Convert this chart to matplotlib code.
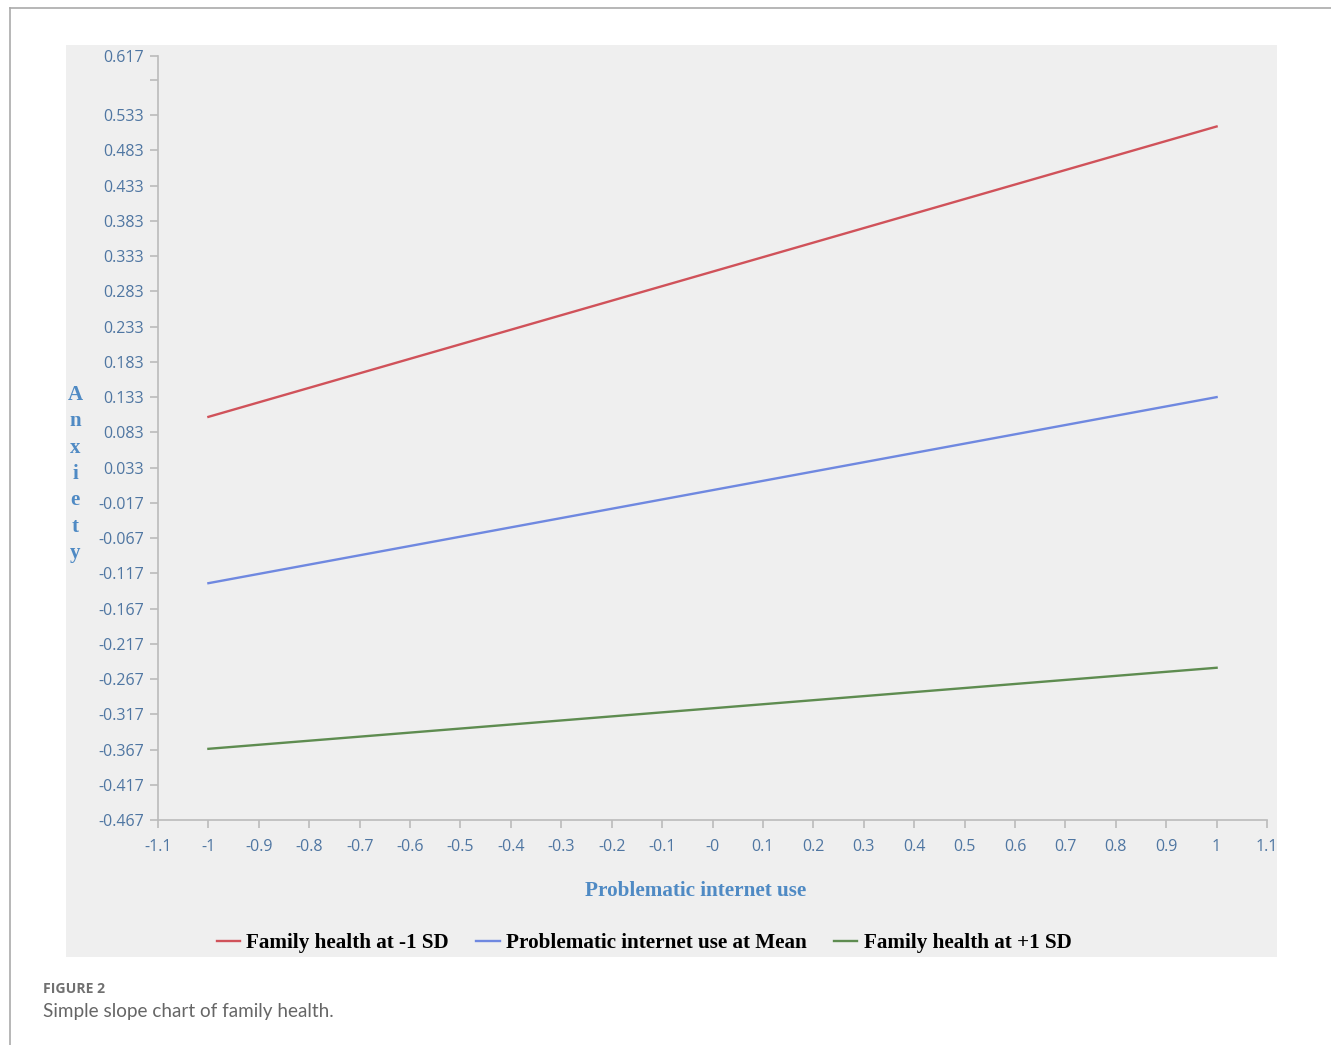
import matplotlib
matplotlib.use("Agg")
import matplotlib.pyplot as plt
from matplotlib.patches import Rectangle
from matplotlib.lines import Line2D

# ---- data ----
x_vals = [-1, 1]
low_sd = [0.105, 0.517]      # Family health at -1 SD
mean_vals = [-0.131, 0.133]  # Problematic internet use at Mean
high_sd = [-0.366, -0.251]   # Family health at +1 SD
series_names = ["Family health at -1 SD", "Problematic internet use at Mean", "Family health at +1 SD"]

ytick_values = [0.617, 0.583, 0.533, 0.483, 0.433, 0.383, 0.333, 0.283, 0.233, 0.183, 0.133,
                0.083, 0.033, -0.017, -0.067, -0.117, -0.167, -0.217, -0.267, -0.317,
                -0.367, -0.417, -0.467]
ytick_labels = ["0.617", "", "0.533", "0.483", "0.433", "0.383", "0.333", "0.283", "0.233",
                "0.183", "0.133", "0.083", "0.033", "-0.017", "-0.067", "-0.117", "-0.167",
                "-0.217", "-0.267", "-0.317", "-0.367", "-0.417", "-0.467"]
xtick_values = [-1.1, -1.0, -0.9, -0.8, -0.7, -0.6, -0.5, -0.4, -0.3, -0.2, -0.1, 0.0,
                0.1, 0.2, 0.3, 0.4, 0.5, 0.6, 0.7, 0.8, 0.9, 1.0, 1.1]
xtick_labels = ["-1.1", "-1", "-0.9", "-0.8", "-0.7", "-0.6", "-0.5", "-0.4", "-0.3", "-0.2",
                "-0.1", "-0", "0.1", "0.2", "0.3", "0.4", "0.5", "0.6", "0.7", "0.8", "0.9",
                "1", "1.1"]

colors = ["#d0525a", "#6f88e0", "#5e8c50"]
tick_color = "#4f76a2"
label_color = "#4f8ac4"
panel_color = "#efefef"
serif = ["Liberation Serif", "DejaVu Serif"]

fig = plt.figure(figsize=(13.31, 10.45), dpi=100)
fig.patch.set_facecolor("white")

# outer frame lines
fig.add_artist(Line2D([10/1331, 10/1331], [0, 1 - 8/1045], transform=fig.transFigure,
                      color="#aaaaaa", lw=1.2))
fig.add_artist(Line2D([10/1331, 1], [1 - 8/1045, 1 - 8/1045], transform=fig.transFigure,
                      color="#aaaaaa", lw=1.2))

# gray panel
fig.add_artist(Rectangle((66/1331, 1 - 957/1045), 1211/1331, 912/1045,
                         transform=fig.transFigure, facecolor=panel_color,
                         edgecolor="none", zorder=0))

ax = fig.add_axes([158/1331, 1 - 820/1045, 1109/1331, 764/1045])
ax.set_facecolor("none")
ax.set_zorder(1)

for vals, c, name in zip([low_sd, mean_vals, high_sd], colors, series_names):
    ax.plot(x_vals, vals, color=c, lw=1.7, label=name)

ax.set_xlim(-1.1, 1.1)
ax.set_ylim(-0.467, 0.617)
ax.set_yticks(ytick_values)
ax.set_yticklabels(ytick_labels)
ax.set_xticks(xtick_values)
ax.set_xticklabels(xtick_labels)

for s in ["top", "right"]:
    ax.spines[s].set_visible(False)
for s in ["left", "bottom"]:
    ax.spines[s].set_color("#bbbbbb")
    ax.spines[s].set_linewidth(1.2)

ax.tick_params(axis="both", direction="out", length=6, width=1.2, color="#bbbbbb",
               labelcolor=tick_color, labelsize=11.5, pad=4)
for lab in ax.get_xticklabels() + ax.get_yticklabels():
    lab.set_fontfamily(["Open Sans", "DejaVu Sans"])
ax.tick_params(axis="x", pad=8)

# axis labels
fig.text(696/1331, 1 - 891/1045, "Problematic internet use", ha="center", va="center",
         fontsize=15.2, fontweight="bold", color=label_color, family=serif)
fig.text(75/1331, 1 - 474/1045, "\n".join("Anxiety"), ha="center", va="center",
         fontsize=15, fontweight="bold", color=label_color, family=serif,
         linespacing=1.43)

# legend
handles, labels = ax.get_legend_handles_labels()
leg = fig.legend(handles, labels, loc="center", bbox_to_anchor=(644/1331, 1 - 943/1045),
                 ncol=3, frameon=False, handlelength=1.1, handletextpad=0.3,
                 columnspacing=1.3, prop={"family": serif, "weight": "bold", "size": 15.2})

# caption
fig.text(43/1331, 1 - 989/1045, "FIGURE 2", ha="left", va="center", fontsize=10.1,
         fontweight="bold", color="#707070", family=["Open Sans", "DejaVu Sans"])
fig.text(43/1331, 1 - 1012/1045, "Simple slope chart of family health.", ha="left",
         va="center", fontsize=13.6, color="#666666", family=["Lato", "DejaVu Sans"])

fig.savefig("out.png", dpi=100)
